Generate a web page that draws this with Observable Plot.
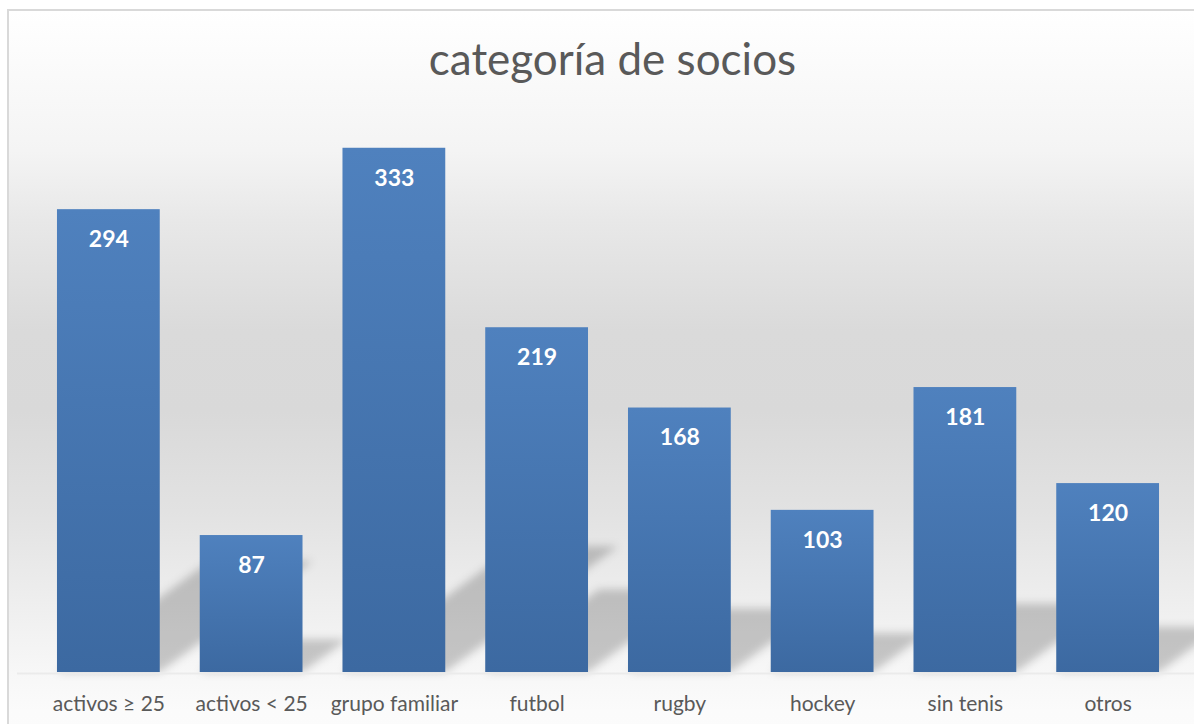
<!DOCTYPE html>
<html>
<head>
<meta charset="utf-8">
<script src="https://cdn.jsdelivr.net/npm/d3@7"></script>
<script src="https://cdn.jsdelivr.net/npm/@observablehq/plot@0.6"></script>
<style>
  html, body { margin: 0; padding: 0; width: 1194px; height: 724px; overflow: hidden; background: #fff; }
  #frame {
    position: absolute; left: 7px; top: 9px; width: 1200px; height: 760px;
    border-left: 2px solid #d9d9d9; border-top: 2px solid #d9d9d9;
    background: linear-gradient(to bottom,
      #ffffff 0px, #f4f4f4 140px, #e8e8e8 210px, #dadada 320px, #d9d9d9 400px,
      #e2e2e2 500px, #eeeeee 590px, #f7f7f7 661px, #fbfbfb 700px, #fcfcfc 760px);
    font-family: Lato, "Open Sans", sans-serif;
  }
  #title {
    box-sizing: border-box; height: 100px; padding-top: 27px; padding-left: 7px;
    text-align: center; font-size: 44px; line-height: 40px; color: #595959;
  }
</style>
</head>
<body>
<div id="frame">
  <div id="title">categoría de socios</div>
  <div id="chart"></div>
</div>
<script>
const categories = ["activos ≥ 25", "activos < 25", "grupo familiar", "futbol", "rugby", "hockey", "sin tenis", "otros"];
const values = [294, 87, 333, 219, 168, 103, 181, 120];

const data = categories.map((c, i) => ({category: c, value: values[i]}));

const plot = Plot.plot({
  width: 1200,
  height: 613,
  marginTop: 10,
  marginBottom: 52,
  marginLeft: 8,
  marginRight: 10,
  style: {fontFamily: "Lato, 'Open Sans', sans-serif", fontSize: "21px", color: "#595959", background: "transparent", overflow: "visible"},
  x: {domain: categories, padding: 0.28, round: false, label: null, tickSize: 0, tickPadding: 24},
  y: {domain: [0, 350], axis: null},
  marks: [
    Plot.barY(data, {x: "category", y: "value", fill: "#000", fillOpacity: 0.2}),
    Plot.ruleY([0], {stroke: "#ebebeb", strokeWidth: 2, dy: 1}),
    Plot.barY(data, {x: "category", y: "value", fill: "url(#barGrad)"}),
    Plot.text(data, {x: "category", y: "value", text: d => String(d.value), dy: 30,
      fill: "#ffffff", fontWeight: "bold", fontSize: 23})
  ]
});

// defs: gradient for bars, blur for shadows
const svg = d3.select(plot.tagName.toLowerCase() === "svg" ? plot : plot.querySelector("svg"));
const defs = svg.insert("defs", ":first-child");
const grad = defs.append("linearGradient").attr("id", "barGrad").attr("x1", 0).attr("y1", 0).attr("x2", 0).attr("y2", 1);
grad.append("stop").attr("offset", "0%").attr("stop-color", "#4f81be");
grad.append("stop").attr("offset", "100%").attr("stop-color", "#3c69a1");
const filt = defs.append("filter").attr("id", "shBlur").attr("x", "-20%").attr("y", "-20%").attr("width", "140%").attr("height", "140%");
filt.append("feGaussianBlur").attr("stdDeviation", 4);

// perspective shadow: squash vertically and shear to the upper right around the baseline
const y0 = plot.scale("y").apply(0);
const s = 0.24, k = 0.33;
const shadowG = svg.node().querySelectorAll('g[aria-label="bar"]')[0];
const outer = document.createElementNS("http://www.w3.org/2000/svg", "g");
outer.setAttribute("filter", "url(#shBlur)");
shadowG.parentNode.insertBefore(outer, shadowG);
outer.appendChild(shadowG);
const prev = shadowG.getAttribute("transform") || "";
shadowG.setAttribute("transform", `matrix(1,0,${-k},${s},${k * y0},${(1 - s) * y0}) ${prev}`);

document.getElementById("chart").appendChild(plot);
</script>
</body>
</html>
